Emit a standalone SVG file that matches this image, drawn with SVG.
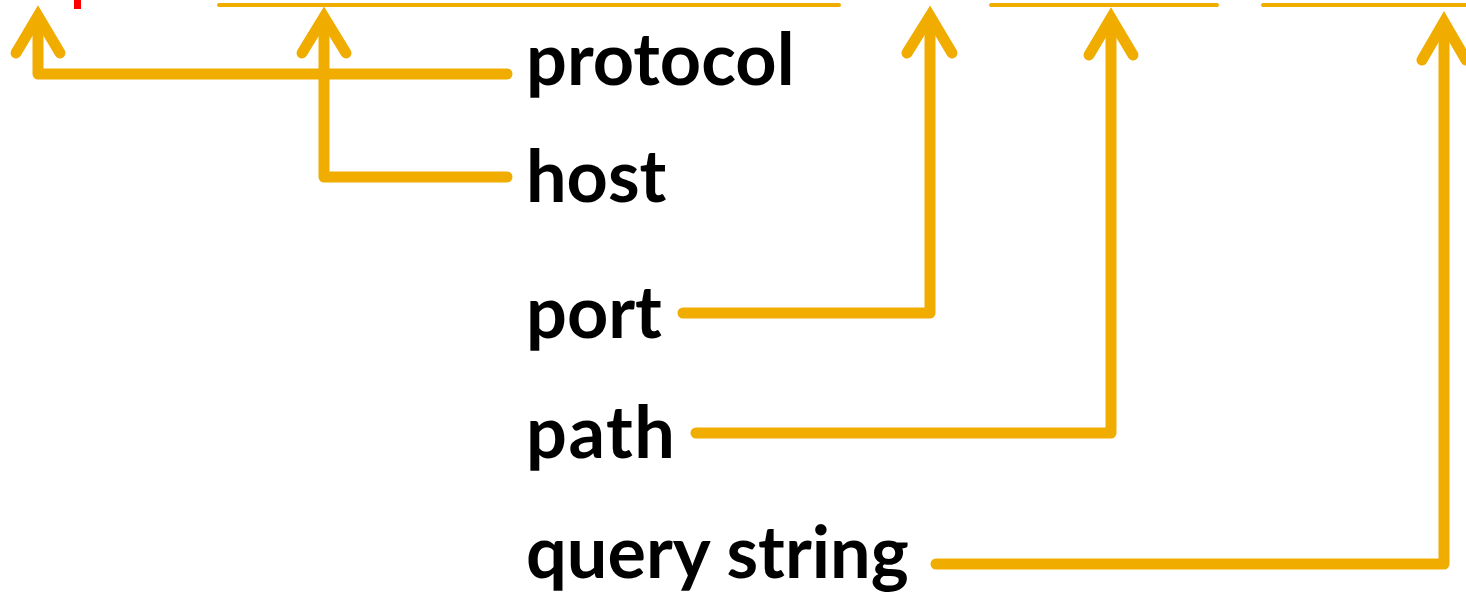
<svg xmlns="http://www.w3.org/2000/svg" width="1466" height="596" viewBox="0 0 1466 596">
<style>
.c{fill:none;stroke:#F0AD00;stroke-width:11;stroke-linecap:round;stroke-linejoin:round}
.h{fill:none;stroke:#F0AD00;stroke-width:11;stroke-linecap:round;stroke-linejoin:miter;stroke-miterlimit:10}
.t{fill:none;stroke:#F0AD00;stroke-width:4;stroke-linecap:round}
.l{font-family:Lato,"Open Sans","Liberation Sans",sans-serif;font-weight:bold;font-size:72px;fill:#000}
</style>
<rect x="74" y="0" width="7" height="9" fill="#FF0000"/>
<g id="toplines">
<line class="t" x1="219" y1="5" x2="839" y2="5"/>
<line class="t" x1="991" y1="5" x2="1217" y2="5"/>
<line class="t" x1="1263" y1="5" x2="1470" y2="5"/>
</g>
<g id="connectors">
<path class="c" d="M507,74 H38 V20"/>
<path class="h" d="M16,53 L38,16 L60,53"/>
<path class="c" d="M507,177 H324 V20"/>
<path class="h" d="M302,53 L324,17 L346,53"/>
<path class="c" d="M683,313 H930 V20"/>
<path class="h" d="M907,53 L930,16 L952,53"/>
<path class="c" d="M696,433 H1111 V20"/>
<path class="h" d="M1089,55 L1111,18 L1133,55"/>
<path class="c" d="M936,564 H1444 V30"/>
<path class="h" d="M1422,60 L1444,22 L1466,60"/>
</g>
<g id="protocol"><text class="l" x="526" y="85">protocol</text></g>
<g id="host"><text class="l" x="526" y="202">host</text></g>
<g id="port"><text class="l" x="526" y="338">port</text></g>
<g id="path"><text class="l" x="526" y="458" letter-spacing="1.5">path</text></g>
<g id="query-string"><text class="l" x="526" y="578">query string</text></g>
</svg>
